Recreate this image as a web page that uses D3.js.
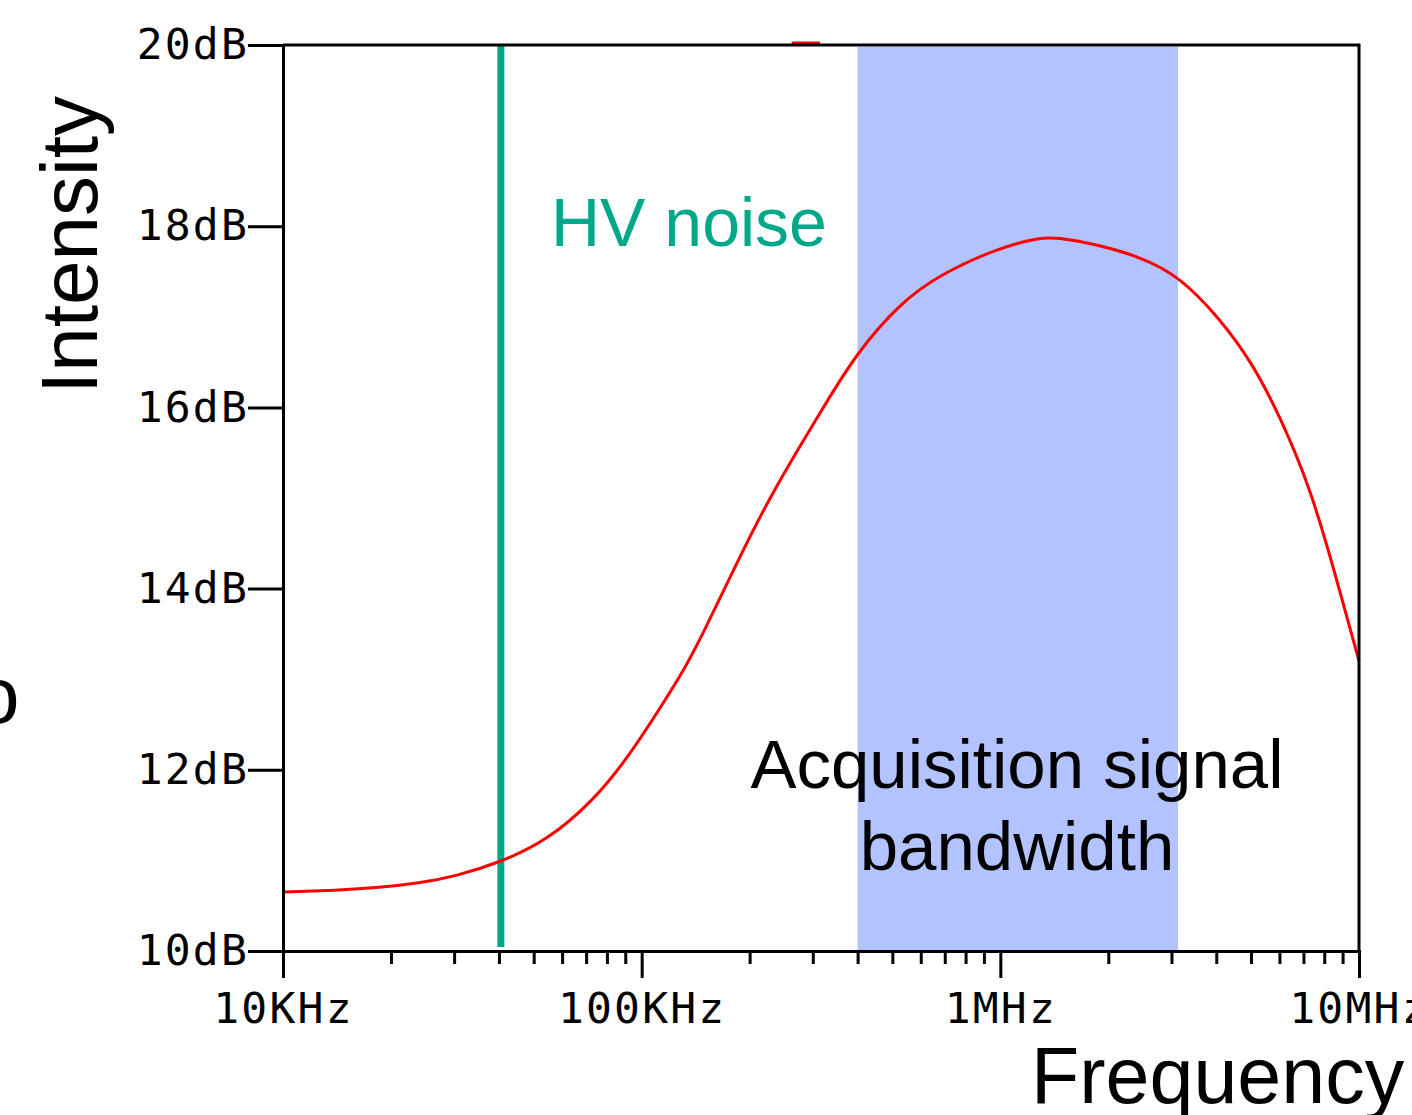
<!DOCTYPE html>
<html>
<head>
<meta charset="utf-8">
<script src="https://cdn.jsdelivr.net/npm/d3@7"></script>
<style>
  body { margin: 0; background: #fff; }
  svg { display: block; }
</style>
</head>
<body>
<div id="chart"></div>
<script>
// frequency response (Hz, dB)
const freqs = [1e4, 14e3, 18.6e3, 24e3, 30e3, 40.5e3, 54.5e3, 73e3, 91e3, 110e3, 128e3, 145e3, 188e3, 228e3, 276e3,
  329e3, 398e3, 525e3, 679e3, 1e6, 1.29e6, 1.42e6, 1.9e6, 2.45e6, 3.13e6, 4.1e6, 5.06e6,
  6.02e6, 7.3e6, 8.46e6, 1e7];
const levels = [10.65, 10.67, 10.70, 10.75, 10.82, 10.98, 11.22, 11.65, 12.12, 12.62, 13.03, 13.42, 14.36, 15.01, 15.57,
  16.07, 16.6, 17.15, 17.47, 17.77, 17.87, 17.88, 17.79, 17.66, 17.46, 16.98, 16.48,
  15.9, 15.12, 14.25, 13.2];

const yTicks = [10, 12, 14, 16, 18, 20];
const xMajor = [1e4, 1e5, 1e6, 1e7];
const xLabels = ["10KHz", "100KHz", "1MHz", "10MHz"];
const noiseFreq = 40.5e3;
const band = [4e5, 3.13e6];
const stray = [2.62e5, 3.14e5]; // little red dash on the top border

const width = 1412, height = 1115,
  margin = ({ top: 45, right: 53, bottom: 164, left: 283 });

const svg = d3.select("#chart")
  .append("svg")
  .attr("width", width)
  .attr("height", height);

const x = d3.scaleLog()
  .domain([1e4, 1e7])
  .range([margin.left, width - margin.right]);

const y = d3.scaleLinear()
  .domain([10, 20])
  .range([height - margin.bottom, margin.top]);

const mono = "'DejaVu Sans Mono', monospace",
  sans = "'Liberation Sans', Arial, sans-serif";

// bandwidth shading
svg.append("rect")
  .attr("x", x(band[0]))
  .attr("y", y(20) + 2)
  .attr("width", x(band[1]) - x(band[0]))
  .attr("height", y(10) - y(20) - 2)
  .attr("fill", "#b3c3ff");

// HV noise line
svg.append("line")
  .attr("x1", x(noiseFreq)).attr("x2", x(noiseFreq))
  .attr("y1", y(20)).attr("y2", y(10) - 4)
  .attr("stroke", "#00a88a")
  .attr("stroke-width", 7);

// response curve
const pts = freqs.map((f, i) => ({ f: f, v: levels[i] }));
const line = d3.line()
  .x(d => x(d.f))
  .y(d => y(d.v))
  .curve(d3.curveBasis);

svg.append("path")
  .datum(pts)
  .attr("d", line)
  .attr("fill", "none")
  .attr("stroke", "#ff0000")
  .attr("stroke-width", 3);

svg.append("line")
  .attr("x1", x(stray[0])).attr("x2", x(stray[1]))
  .attr("y1", y(20) - 2).attr("y2", y(20) - 2)
  .attr("stroke", "#ff0000")
  .attr("stroke-width", 3);

// frame: top and right
svg.append("path")
  .attr("d", `M${margin.left},${y(20)}H${x(1e7)}V${y(10)}`)
  .attr("fill", "none")
  .attr("stroke", "#000")
  .attr("stroke-width", 3);

// y axis
svg.append("g")
  .attr("transform", `translate(${margin.left},0)`)
  .call(d3.axisLeft(y).tickValues(yTicks).tickSize(35).tickPadding(-1)
    .tickSizeOuter(0).tickFormat(d => d + "dB"));

// x axis, minor ticks first
const minor = [];
for (let dec = 1e4; dec < 1e7; dec *= 10)
  for (let k = 2; k <= 9; k++) minor.push(dec * k);

svg.append("g")
  .attr("transform", `translate(0,${y(10)})`)
  .call(d3.axisBottom(x).tickValues(minor).tickSize(13).tickFormat(""));

svg.append("g")
  .attr("transform", `translate(0,${y(10)})`)
  .call(d3.axisBottom(x).tickValues(xMajor).tickSize(27).tickPadding(14)
    .tickSizeOuter(0).tickFormat((d, i) => xLabels[i]));

svg.selectAll(".domain, .tick line")
  .attr("stroke", "#000")
  .attr("stroke-width", 3);

svg.selectAll(".tick text")
  .attr("fill", "#000")
  .style("font-family", mono)
  .style("font-size", "43px")
  .style("letter-spacing", "2.2px");

// labels
svg.append("text")
  .attr("transform", "translate(97,245) rotate(-90)")
  .attr("text-anchor", "middle")
  .style("font-family", sans)
  .style("font-size", "80px")
  .text("Intensity");

svg.append("text")
  .attr("x", 1031)
  .attr("y", 1103)
  .style("font-family", sans)
  .style("font-size", "79px")
  .text("Frequency");

svg.append("text")
  .attr("x", -25)
  .attr("y", 723)
  .style("font-family", sans)
  .style("font-size", "80px")
  .text("o");

svg.append("text")
  .attr("x", 551)
  .attr("y", 246)
  .attr("fill", "#00a88a")
  .style("font-family", sans)
  .style("font-size", "68px")
  .text("HV noise");

const note = svg.append("text")
  .attr("text-anchor", "middle")
  .style("font-family", sans)
  .style("font-size", "69px");
note.append("tspan").attr("x", 1017).attr("y", 788).text("Acquisition signal");
note.append("tspan").attr("x", 1017).attr("y", 870).text("bandwidth");
</script>
</body>
</html>
